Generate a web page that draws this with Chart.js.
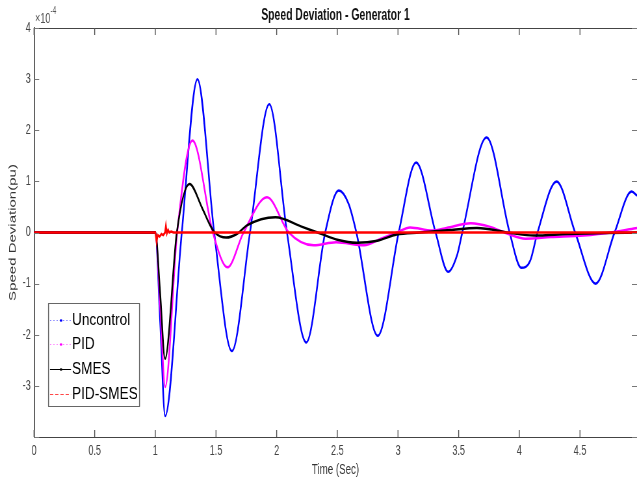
<!DOCTYPE html>
<html><head><meta charset="utf-8">
<script src="https://cdn.jsdelivr.net/npm/chart.js@4.4.0/dist/chart.umd.min.js"></script>
<style>
html,body{margin:0;padding:0;background:#fff;overflow:hidden;width:637px;height:479px}
#wrap{width:980px;height:479px;position:absolute;left:0;top:0;transform:scaleX(0.65);transform-origin:0 0}
</style>
</head><body><div id="wrap"><canvas id="c" width="980" height="479" style="width:980px;height:479px"></canvas></div>
<script>
// The figure is drawn 980 px wide and squeezed to 637 px, like the condensed original.
const SQUEEZE = 0.65;
const FONT = "'Liberation Sans',Arial,Helvetica,sans-serif";
const chartTitle = 'Speed Deviation - Generator 1';
const xTitle = 'Time (Sec)';
const yTitle = 'Speed Deviation(pu)';
const xTicks = [0, 0.5, 1, 1.5, 2, 2.5, 3, 3.5, 4, 4.5];
const yTicks = [-4, -3, -2, -1, 0, 1, 2, 3, 4];
const seriesNames = ['Uncontrol', 'PID', 'SMES', 'PID-SMES'];

// Uncontrol (values in 1e-4 pu)
const uncontrolT = [0, 1.0, 1.04, 1.081, 1.218, 1.347, 1.485, 1.631, 1.78, 1.939, 2.085, 2.244, 2.40, 2.511, 2.593, 2.657, 2.833, 3.006, 3.149, 3.31, 3.413, 3.49, 3.53, 3.73, 3.92, 4.016, 4.09, 4.15, 4.307, 4.46, 4.629, 4.785, 4.926, 4.97];
const uncontrolV = [0, 0, -1.75, -3.59, 0, 3.0, 0, -2.32, 0, 2.51, 0, -2.15, 0, 0.82, 0.56, 0, -2.02, 0, 1.37, 0, -0.77, -0.42, 0, 1.86, 0, -0.69, -0.55, 0, 1.0, 0, -1.0, 0, 0.8, 0.72];

// PID
const pidT = [0, 1.0, 1.04, 1.081, 1.18, 1.306, 1.474, 1.595, 1.727, 1.92, 2.1, 2.305, 2.49, 2.72, 2.86, 2.99, 3.1, 3.28, 3.4, 3.6, 3.76, 3.9, 4.05, 4.26, 4.53, 4.78, 4.97];
const pidV = [0, 0, -1.45, -3.02, 0, 1.80, 0, -0.68, 0, 0.69, 0, -0.25, -0.19, -0.25, -0.12, 0, 0.10, 0.04, 0.09, 0.18, 0.11, -0.02, -0.12, -0.09, -0.06, 0.01, 0.09];

// SMES
const smesT = [0, 1.0, 1.04, 1.08, 1.177, 1.282, 1.384, 1.452, 1.49, 1.584, 1.672, 1.755, 1.99, 2.2, 2.36, 2.5, 2.66, 2.83, 2.99, 3.18, 3.43, 3.65, 3.93, 4.12, 4.4, 4.7, 4.97];
const smesV = [0, 0, -1.2, -2.47, 0, 0.95, 0.49, 0.14, 0, -0.10, -0.03, 0.14, 0.30, 0.12, -0.02, -0.14, -0.20, -0.16, -0.04, 0, 0.05, 0.09, -0.01, -0.06, -0.03, -0.01, 0];

// PID-SMES
const pidSmesT = [0, 1.0, 1.01, 1.02, 1.035, 1.05, 1.065, 1.08, 1.087, 1.095, 1.105, 1.115, 1.13, 1.15, 4.97];
const pidSmesV = [0, 0, -0.18, -0.05, -0.08, -0.03, -0.05, 0.0, 0.13, -0.02, 0.05, 0.0, 0.02, 0, 0];

const toXY = (t, v) => t.map((x, i) => ({x: x, y: v[i]}));
const colors = ['#0000ff', '#ff00ff', '#000000', '#ff0000'];
const K = 1 / SQUEEZE; // internal px per output px horizontally

const decor = {
  id: 'decor',
  afterDraw(chart) {
    const ctx = chart.ctx;
    const a = chart.chartArea;
    const xs = chart.scales.x, ys = chart.scales.y;
    ctx.save();
    // top border
    ctx.strokeStyle = '#444';
    ctx.lineWidth = 1;
    ctx.beginPath();
    ctx.moveTo(a.left, Math.round(a.top) + 0.5);
    ctx.lineTo(a.right, Math.round(a.top) + 0.5);
    ctx.stroke();
    // inward ticks
    ctx.strokeStyle = '#555';
    ctx.lineWidth = 1.4;
    ctx.beginPath();
    xTicks.forEach(v => {
      const px = xs.getPixelForValue(v);
      ctx.moveTo(px, a.bottom); ctx.lineTo(px, a.bottom - 7);
      ctx.moveTo(px, a.top); ctx.lineTo(px, a.top + 7);
    });
    ctx.stroke();
    ctx.lineWidth = 1;
    ctx.strokeStyle = '#777';
    ctx.beginPath();
    yTicks.forEach(v => {
      const py = Math.round(ys.getPixelForValue(v)) + 0.5;
      ctx.moveTo(a.left, py); ctx.lineTo(a.left + 8, py);
      ctx.moveTo(a.right, py); ctx.lineTo(a.right - 8, py);
    });
    ctx.stroke();
    // exponent label
    ctx.fillStyle = '#555';
    ctx.textBaseline = 'alphabetic';
    ctx.textAlign = 'left';
    ctx.font = '14px ' + FONT;
    ctx.fillText('\u00d710', a.left + 1 * K, a.top - 5);
    const w = ctx.measureText('\u00d710').width;
    ctx.font = '10px ' + FONT;
    ctx.fillText('-4', a.left + 1 * K + w, a.top - 14);
    // legend (output coords * K)
    const lx = 48.5 * K, ly = 303.5, lw = 91 * K, lh = 103;
    ctx.fillStyle = '#fff';
    ctx.fillRect(lx, ly, lw, lh);
    ctx.strokeStyle = '#666';
    ctx.lineWidth = 1;
    ctx.strokeRect(lx, ly, lw, lh);
    ctx.lineWidth = 1.4;
    ctx.beginPath(); ctx.moveTo(lx, ly); ctx.lineTo(lx, ly + lh); ctx.moveTo(lx + lw, ly); ctx.lineTo(lx + lw, ly + lh); ctx.stroke();
    const rows = [320, 344, 369, 394];
    const sampleCol = ['rgba(110,110,255,0.85)', 'rgba(255,110,255,0.85)', '#000', 'rgba(255,50,50,0.9)'];
    seriesNames.forEach((name, i) => {
      const y = rows[i] + 0.5;
      ctx.save();
      ctx.strokeStyle = sampleCol[i];
      ctx.lineWidth = 1;
      if (i === 0 || i === 1) ctx.setLineDash([2, 3]);
      if (i === 3) ctx.setLineDash([5, 3]);
      ctx.beginPath(); ctx.moveTo(50 * K, y); ctx.lineTo(71 * K, y); ctx.stroke();
      ctx.restore();
      if (i < 3) {
        ctx.fillStyle = colors[i];
        ctx.beginPath(); ctx.ellipse(61 * K, y, 1.3 * K, 1.3, 0, 0, Math.PI * 2); ctx.fill();
      }
      ctx.save();
      ctx.fillStyle = '#000';
      ctx.font = '16px ' + FONT;
      ctx.textBaseline = 'middle';
      ctx.translate(72 * K, rows[i] + 1);
      ctx.scale(0.85 * K, 1);
      ctx.fillText(name, 0, 0);
      ctx.restore();
    });
    ctx.restore();
  }
};

const ds = (label, t, v, color, order, mode) => ({
  label: label, data: toXY(t, v), borderColor: color, backgroundColor: color,
  borderWidth: 2.5, pointRadius: 0, fill: false, order: order,
  tension: mode === 'linear' ? 0 : 0.4,
  cubicInterpolationMode: mode === 'linear' ? 'default' : 'monotone'
});

new Chart(document.getElementById('c').getContext('2d'), {
  type: 'line',
  data: {
    datasets: [
      ds(seriesNames[0], uncontrolT, uncontrolV, colors[0], 3),
      ds(seriesNames[1], pidT, pidV, colors[1], 2),
      ds(seriesNames[2], smesT, smesV, colors[2], 1),
      ds(seriesNames[3], pidSmesT, pidSmesV, colors[3], 0, 'linear')
    ]
  },
  options: {
    responsive: false, animation: false, devicePixelRatio: 1,
    layout: {padding: 0},
    plugins: {
      legend: {display: false},
      tooltip: {enabled: false},
      title: {
        display: true, text: chartTitle, fullSize: false, color: '#111',
        font: {family: FONT, size: 16, weight: 'bold'},
        padding: {top: 6, bottom: 2.8}
      }
    },
    scales: {
      x: {
        type: 'linear', min: 0, max: 4.97,
        afterBuildTicks: s => { s.ticks = xTicks.map(v => ({value: v})); },
        afterFit: s => { s.height = 42; },
        ticks: {callback: v => String(v), font: {family: FONT, size: 14}, color: '#444', padding: 6, maxRotation: 0, autoSkip: false, includeBounds: false},
        grid: {display: true, drawOnChartArea: false, drawTicks: false},
        border: {display: true, color: '#444', width: 1},
        title: {display: true, text: xTitle, color: '#333', font: {family: FONT, size: 15}, padding: {top: 0, bottom: 0}}
      },
      y: {
        type: 'linear', min: -4, max: 4,
        afterBuildTicks: s => { s.ticks = yTicks.map(v => ({value: v})); },
        afterFit: s => { s.width = 34 * K; },
        ticks: {callback: v => (v === -4 ? '' : String(v)), font: {family: FONT, size: 14}, color: '#444', padding: 5, autoSkip: false},
        grid: {display: true, drawOnChartArea: false, drawTicks: false},
        border: {display: true, color: '#333', width: 1.6},
        title: {display: true, text: yTitle, color: '#333', font: {family: FONT, size: 15}, padding: {top: 11, bottom: 0}}
      }
    }
  },
  plugins: [decor]
});
</script></body></html>
